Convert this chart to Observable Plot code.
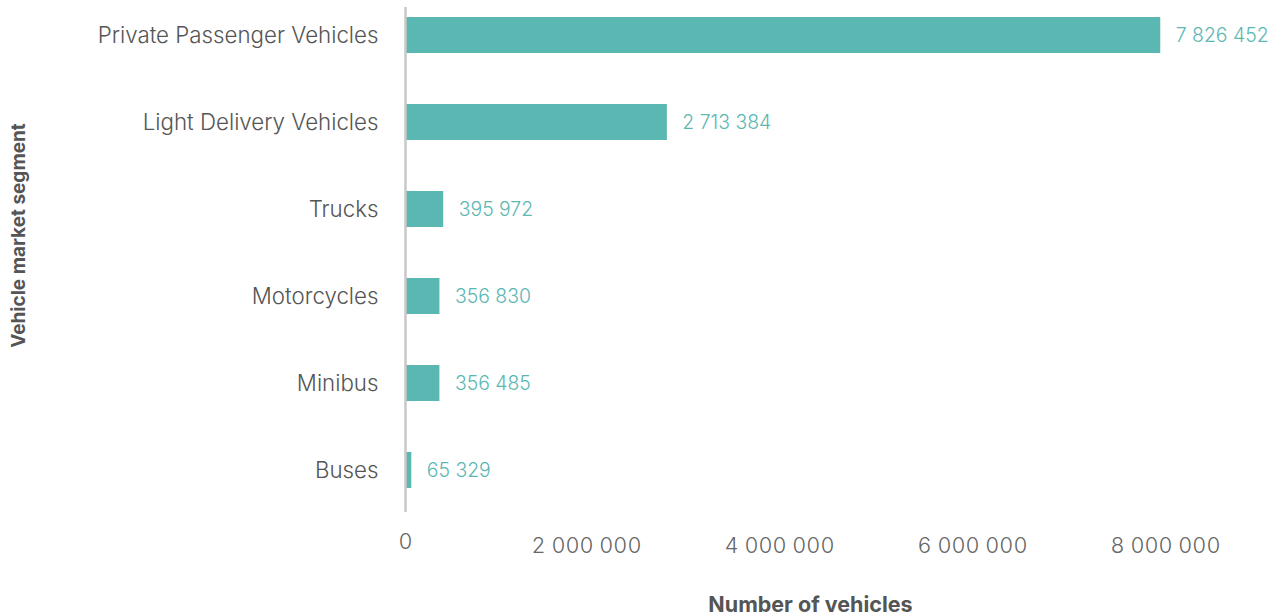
<!DOCTYPE html>
<html>
<head>
<meta charset="utf-8">
<script src="https://cdn.jsdelivr.net/npm/d3@7"></script>
<script src="https://cdn.jsdelivr.net/npm/@observablehq/plot@0.6"></script>
<style>
  body { margin: 0; background: #fff; }
  #chart svg { display: block; }
</style>
</head>
<body>
<div id="chart"></div>
<script>
const segments = ["Private Passenger Vehicles", "Light Delivery Vehicles", "Trucks", "Motorcycles", "Minibus", "Buses"];
const counts = [7826452, 2713384, 395972, 356830, 356485, 65329];
const xTicks = [2000000, 4000000, 6000000, 8000000];
const xTitle = "Number of vehicles";
const yTitle = "Vehicle market segment";

const data = segments.map((s, i) => ({segment: s, count: counts[i]}));
const fmt = (v) => d3.format(",")(v).replace(/,/g, " ");

const teal = "#5BB7B2";
const family = "Inter, 'Open Sans', sans-serif";

// size fonts so that text widths match the reference
const ctx = document.createElement("canvas").getContext("2d");
function sizeFor(text, target, weight) {
  ctx.font = `${weight} 20px ${family}`;
  const w = ctx.measureText(text).width;
  return Math.round(20 * target / w * 10) / 10;
}
const catSize = sizeFor(segments[0], 281, 300);
const tickSize = sizeFor("2 000 000", 106, 300);
const valSize = sizeFor("7 826 452", 93, 300);
const xTitleSize = sizeFor(xTitle, 204, 700);
const yTitleSize = sizeFor(yTitle, 225, 700);

const chart = Plot.plot({
  width: 1278,
  height: 616,
  marginLeft: 405,
  marginRight: 101,
  marginTop: 7,
  marginBottom: 104,
  style: {fontFamily: family, fontSize: catSize + "px", color: "#555", background: "#fff"},
  x: {domain: [0, 8000000]},
  y: {domain: segments, paddingInner: 0.587, paddingOuter: 0.189, align: 0.3},
  marks: [
    Plot.barX(data, {x: "count", y: "segment", fill: teal}),
    Plot.ruleX([0], {stroke: "#c8c8c8", strokeWidth: 2.5}),
    Plot.text(data, {x: "count", y: "segment", text: d => fmt(d.count), textAnchor: "start", dx: 15, fill: teal, fontSize: valSize, fontWeight: 300}),
    Plot.axisY({tickSize: 0, tickPadding: 27, label: null, fontSize: catSize, fill: "#555", fontWeight: 300}),
    Plot.axisX({ticks: xTicks, tickSize: 0, tickPadding: 25, dx: -12, tickFormat: fmt, label: null, fontSize: tickSize, fill: "#666", fontWeight: 300}),
    Plot.axisX({ticks: [0], tickSize: 0, tickPadding: 21, tickFormat: fmt, label: null, fontSize: tickSize, fill: "#666", fontWeight: 300}),
    Plot.text([xTitle], {frameAnchor: "bottom", lineAnchor: "middle", textAnchor: "middle", dx: 19, dy: 93, fontWeight: 700, fontSize: xTitleSize, fill: "#555"}),
    Plot.text([yTitle], {frameAnchor: "left", textAnchor: "middle", lineAnchor: "middle", rotate: -90, dx: -387, dy: -24.5, fontWeight: 700, fontSize: yTitleSize, fill: "#555"})
  ]
});
document.getElementById("chart").appendChild(chart);
</script>
</body>
</html>
